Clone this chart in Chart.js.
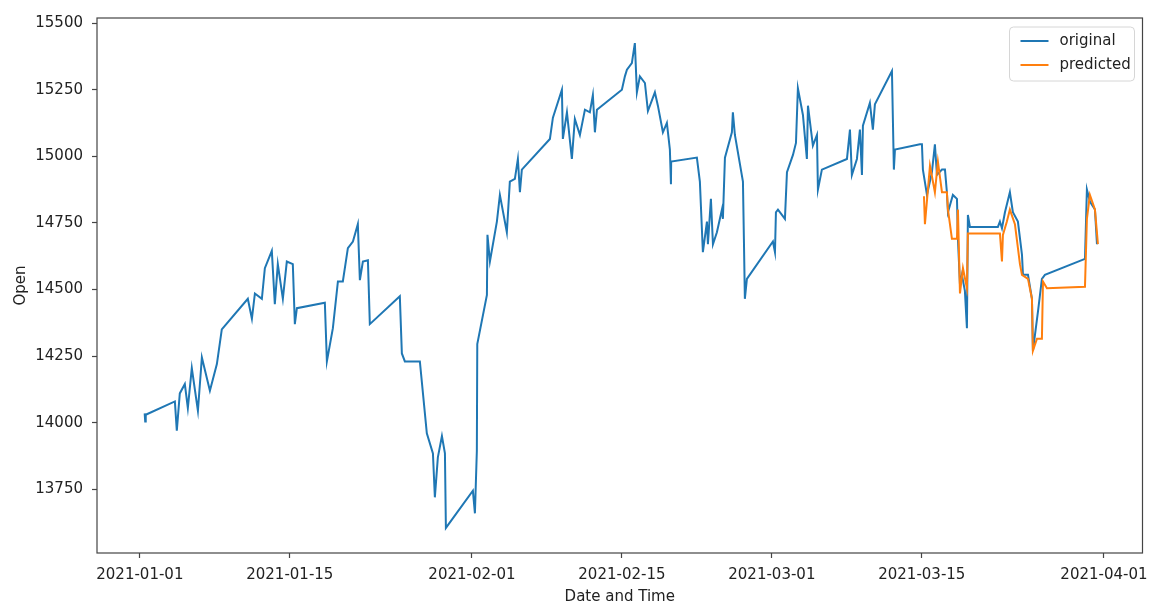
<!DOCTYPE html>
<html>
<head>
<meta charset="utf-8">
<title>Open price - original vs predicted</title>
<script src="https://cdn.jsdelivr.net/npm/chart.js@4.4.0/dist/chart.umd.min.js"></script>
<style>
    html, body { margin: 0; padding: 0; background: #fff; }
    #wrap { width: 1156px; height: 607px; position: relative; }
</style>
</head>
<body>
<div id="wrap"><canvas id="openChart"></canvas></div>
<script>
// ========================================
// DATA (x = days since 2021-01-01)
// ========================================

const tickDays = [0, 14, 31, 45, 59, 73, 90];
const tickLabels = ['2021-01-01', '2021-01-15', '2021-02-01', '2021-02-15', '2021-03-01', '2021-03-15', '2021-04-01'];
const openTicks = [13750, 14000, 14250, 14500, 14750, 15000, 15250, 15500];

const origDays = [
    0.45, 0.5, 0.55, 3.27, 3.45, 3.73, 4.20, 4.48, 4.85, 5.42, 5.79, 6.54, 7.19, 7.65,
    10.08, 10.46, 10.74, 11.39, 11.67, 12.32, 12.60, 12.88, 13.35, 13.72, 14.28, 14.47, 14.66,
    17.27, 17.46, 18.02, 18.49, 18.95, 19.42, 19.89, 20.35, 20.54, 20.82, 21.29, 21.47,
    24.27, 24.46, 24.74, 26.14, 26.79, 27.36, 27.54, 27.82, 28.20, 28.48, 28.57,
    31.09, 31.28, 31.46, 31.50, 32.40, 32.45, 32.68, 33.33, 33.61, 34.26, 34.54, 35.01, 35.29, 35.48, 35.66,
    38.28, 38.56, 39.40, 39.49, 39.87, 40.33, 40.61, 41.08, 41.55, 42.01, 42.29, 42.48, 42.67,
    45.00, 45.28, 45.47, 45.93, 46.21, 46.40, 46.68, 47.15, 47.43, 48.08, 48.36, 48.83, 49.20, 49.48, 49.58, 49.60,
    52.00, 52.28, 52.56, 52.94, 53.03, 53.31, 53.50, 53.87, 54.34, 54.43, 54.62, 55.27, 55.36, 55.55, 56.30, 56.39, 56.48, 56.67,
    59.10, 59.29, 59.38, 59.57, 60.22, 60.41, 60.97, 61.25, 61.43, 61.90, 62.27, 62.37, 62.83, 63.21, 63.30, 63.67,
    66.01, 66.29, 66.47, 66.94, 67.22, 67.41, 67.50, 68.15, 68.43, 68.62, 70.21, 70.39, 70.49,
    72.82, 73.01, 73.10, 73.48, 73.94, 74.22, 74.41, 74.88, 75.16, 75.34, 75.44, 75.90, 76.28, 76.37, 76.56, 76.74, 77.02, 77.21, 77.30, 77.49,
    80.10, 80.29, 80.48, 80.76, 81.22, 81.50, 81.97, 82.35, 82.44, 82.91, 83.28, 83.37, 83.85, 84.21, 84.49,
    88.23, 88.41, 88.69, 89.16, 89.35
];
const origOpen = [
    14035, 14005, 14030, 14080, 13970, 14110, 14145, 14055, 14205, 14045, 14245, 14120, 14220, 14350,
    14465, 14390, 14485, 14465, 14580, 14645, 14445, 14595, 14465, 14605, 14595, 14370, 14430,
    14450, 14230, 14355, 14530, 14530, 14655, 14680, 14745, 14535, 14605, 14610, 14370,
    14475, 14260, 14230, 14230, 13960, 13885, 13720, 13870, 13950, 13885, 13605,
    13745, 13660, 13895, 14295, 14480, 14705, 14605, 14755, 14855, 14715, 14905, 14915, 14990, 14865, 14950,
    15065, 15145, 15250, 15065, 15165, 14990, 15140, 15080, 15175, 15165, 15230, 15090, 15175,
    15250, 15300, 15325, 15350, 15425, 15240, 15300, 15275, 15170, 15240, 15190, 15090, 15125, 15025, 14895, 14980,
    14995, 14905, 14640, 14755, 14670, 14840, 14670, 14715, 14800, 14765, 14995, 15090, 15165, 15080, 14905, 14690, 14465, 14540,
    14680, 14640, 14790, 14800, 14765, 14940, 15005, 15050, 15255, 15155, 14990, 15190, 15040, 15080, 14875, 14950,
    14990, 15100, 14930, 14990, 15100, 14930, 15115, 15200, 15100, 15195, 15320, 14950, 15025,
    15045, 15045, 14950, 14855, 14940, 15045, 14930, 14950, 14950, 14865, 14790, 14855, 14840, 14690, 14520, 14555, 14495, 14355, 14780, 14735,
    14735, 14755, 14730, 14790, 14865, 14790, 14755, 14630, 14555, 14555, 14465, 14270, 14420, 14540, 14555,
    14615, 14875, 14830, 14800, 14670
];

const predDays = [
    73.20, 73.29, 73.76, 74.22, 74.50, 74.88, 75.34, 75.44, 75.81, 76.28,
    76.37, 76.56, 76.84, 77.21, 77.30, 80.29, 80.48, 80.57, 80.94, 81.22,
    81.69, 82.16, 82.35, 82.91, 83.28, 83.37, 83.75, 84.21, 84.31, 84.68,
    88.23, 88.41, 88.69, 89.16, 89.44
];
const predOpen = [
    14850, 14745, 14965, 14865, 14980, 14865, 14865, 14800, 14690, 14690,
    14800, 14485, 14580, 14505, 14710, 14710, 14605, 14705, 14755, 14800,
    14745, 14595, 14555, 14540, 14465, 14270, 14315, 14315, 14530, 14505,
    14510, 14765, 14855, 14800, 14670
];

// ========================================
// STYLE
// ========================================

const BLUE = '#1f77b4';
const ORANGE = '#ff7f0e';
const AXIS_COLOR = '#444';
const TEXT_COLOR = '#222';
const FONT = { family: "'DejaVu Sans', sans-serif", size: 15 };

Chart.defaults.font.family = FONT.family;
Chart.defaults.font.size = FONT.size;
Chart.defaults.color = TEXT_COLOR;

function toPoints(xs, ys) {
    return xs.map((x, i) => ({ x: x, y: ys[i] }));
}

// ========================================
// PLUGINS: frame + inset legend
// ========================================

const framePlugin = {
    id: 'frame',
    afterDraw(chart) {
        const { ctx, chartArea: a } = chart;
        ctx.save();
        ctx.strokeStyle = AXIS_COLOR;
        ctx.lineWidth = 1.2;
        ctx.strokeRect(a.left, a.top, a.right - a.left, a.bottom - a.top);
        ctx.restore();
    }
};

const insetLegend = {
    id: 'insetLegend',
    afterDraw(chart) {
        const { ctx, chartArea: a } = chart;
        const w = 125, h = 54;
        const x0 = a.right - 8 - w, y0 = a.top + 9;
        ctx.save();
        ctx.beginPath();
        ctx.roundRect(x0, y0, w, h, 4);
        ctx.fillStyle = 'rgba(255,255,255,0.8)';
        ctx.fill();
        ctx.strokeStyle = '#d6d6d6';
        ctx.lineWidth = 1;
        ctx.stroke();

        ctx.font = `${FONT.size}px ${FONT.family}`;
        ctx.textBaseline = 'middle';
        chart.data.datasets.forEach((ds, i) => {
            const y = y0 + 14 + i * 24;
            ctx.strokeStyle = ds.borderColor;
            ctx.lineWidth = 2;
            ctx.beginPath();
            ctx.moveTo(x0 + 11, y);
            ctx.lineTo(x0 + 39, y);
            ctx.stroke();
            ctx.fillStyle = TEXT_COLOR;
            ctx.fillText(ds.label, x0 + 50, y);
        });
        ctx.restore();
    }
};

// ========================================
// CHART
// ========================================

new Chart(document.getElementById('openChart'), {
    type: 'line',
    data: {
        datasets: [
            {
                label: 'original',
                data: toPoints(origDays, origOpen),
                borderColor: BLUE,
                borderWidth: 2,
                pointRadius: 0,
                tension: 0,
                order: 1
            },
            {
                label: 'predicted',
                data: toPoints(predDays, predOpen),
                borderColor: ORANGE,
                borderWidth: 2,
                pointRadius: 0,
                tension: 0,
                order: 0
            }
        ]
    },
    options: {
        responsive: true,
        maintainAspectRatio: false,
        animation: false,
        parsing: false,
        layout: { padding: { top: 15, right: 13, left: 0, bottom: 0 } },
        plugins: {
            legend: { display: false },
            tooltip: { enabled: false }
        },
        scales: {
            x: {
                type: 'linear',
                min: -4.0,
                max: 93.6,
                afterBuildTicks: (scale) => {
                    scale.ticks = tickDays.map(v => ({ value: v }));
                },
                afterFit: (scale) => { scale.height = 54; },
                ticks: {
                    autoSkip: false,
                    maxRotation: 0,
                    padding: 8,
                    color: TEXT_COLOR,
                    callback: (v) => tickLabels[tickDays.indexOf(v)]
                },
                grid: {
                    drawOnChartArea: false,
                    drawTicks: true,
                    tickLength: 5,
                    tickWidth: 1.2,
                    tickColor: AXIS_COLOR
                },
                border: { display: false },
                title: {
                    display: true,
                    text: 'Date and Time',
                    color: TEXT_COLOR,
                    padding: { top: 0, bottom: 1 }
                }
            },
            y: {
                type: 'linear',
                min: 13511,
                max: 15519,
                afterBuildTicks: (scale) => {
                    scale.ticks = openTicks.map(v => ({ value: v }));
                },
                afterFit: (scale) => { scale.width = 97; },
                ticks: {
                    padding: 9,
                    color: TEXT_COLOR,
                    callback: (v) => String(v)
                },
                grid: {
                    drawOnChartArea: false,
                    drawTicks: true,
                    tickLength: 5,
                    tickWidth: 1.2,
                    tickColor: AXIS_COLOR
                },
                border: { display: false },
                title: {
                    display: true,
                    text: 'Open',
                    color: TEXT_COLOR,
                    padding: { top: 12, bottom: 0 }
                }
            }
        }
    },
    plugins: [framePlugin, insetLegend]
});
</script>
</body>
</html>
